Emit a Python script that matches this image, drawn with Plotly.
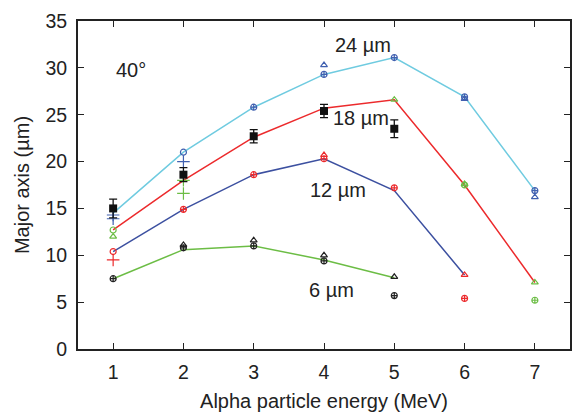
import plotly.graph_objects as go

energy = [1, 2, 3, 4, 5, 6, 7]

# Simulation lines (µm depth labels)
line24 = [14.5, 21.0, 25.8, 29.3, 31.1, 26.9, 16.9]
line18 = [12.7, 18.0, 22.6, 25.7, 26.6, 17.5, 7.1]
line12 = [10.4, 14.9, 18.6, 20.3, 16.9, 7.9]
line6 = [7.5, 10.6, 11.0, 9.5, 7.6]

# Experimental points (black squares with error bars)
exp_x = [1, 2, 3, 4, 5]
exp_y = [15.0, 18.6, 22.7, 25.4, 23.5]
exp_err = [1.0, 0.75, 0.7, 0.7, 0.95]

# Marker groups: (x list, y list)
blue_circ_x, blue_circ_y = [2], [21.0]
blue_plus_x, blue_plus_y = [1, 1, 2], [14.3, 13.9, 20.0]
blue_oplus_x, blue_oplus_y = [3, 4, 5, 6, 7], [25.8, 29.3, 31.1, 26.9, 16.9]
blue_tri_x, blue_tri_y = [4, 6, 7], [30.3, 26.7, 16.2]

red_circ_x, red_circ_y = [1], [10.4]
red_plus_x, red_plus_y = [1], [9.5]
red_oplus_x, red_oplus_y = [2, 3, 4, 5, 6], [14.9, 18.6, 20.3, 17.2, 5.4]
red_tri_x, red_tri_y = [4, 6], [20.7, 7.9]

green_circ_x, green_circ_y = [1], [12.7]
green_plus_x, green_plus_y = [2, 2], [16.6, 18.0]
green_oplus_x, green_oplus_y = [6, 7], [17.5, 5.2]
green_tri_x, green_tri_y = [1, 5, 6, 7], [12.0, 26.6, 17.6, 7.1]

black_oplus_x, black_oplus_y = [1, 2, 3, 4, 5], [7.5, 10.8, 11.0, 9.4, 5.7]
black_tri_x, black_tri_y = [2, 3, 4, 5], [11.1, 11.6, 10.0, 7.7]

labels = ["24 µm", "18 µm", "12 µm", "6 µm", "40°"]
label_x = [4.56, 4.52, 4.2, 4.1, 1.25]
label_y = [32.4, 24.7, 17.0, 6.3, 29.8]

CYAN = "#6fcbe0"
RED = "#ec2a2c"
BLUE = "#3c50a0"
GREEN = "#6cbd45"
MBLUE = "#4060b0"
BLACK = "#222222"
FONT = "Liberation Sans, Arial, sans-serif"

fig = go.Figure()

for xs, ys, c in [(energy, line24, CYAN), (energy, line18, RED),
                  (energy[:6], line12, BLUE), (energy[:5], line6, GREEN)]:
    fig.add_trace(go.Scatter(x=xs, y=ys, mode="lines",
                             line=dict(color=c, width=1.5)))

def mk(xs, ys, sym, color, size=6):
    fig.add_trace(go.Scatter(x=xs, y=ys, mode="markers",
                             marker=dict(symbol=sym, size=size, color=color,
                                         line=dict(color=color, width=1.2))))

for col, groups in [
    (MBLUE, [(blue_circ_x, blue_circ_y, "circle-open", 6),
             (blue_plus_x, blue_plus_y, "cross-thin-open", 9),
             (blue_oplus_x, blue_oplus_y, "circle-cross-open", 6),
             (blue_tri_x, blue_tri_y, "triangle-up-open", 6)]),
    (RED, [(red_circ_x, red_circ_y, "circle-open", 6),
           (red_plus_x, red_plus_y, "cross-thin-open", 9),
           (red_oplus_x, red_oplus_y, "circle-cross-open", 6),
           (red_tri_x, red_tri_y, "triangle-up-open", 6)]),
    (GREEN, [(green_circ_x, green_circ_y, "circle-open", 6),
             (green_plus_x, green_plus_y, "cross-thin-open", 9),
             (green_oplus_x, green_oplus_y, "circle-cross-open", 6),
             (green_tri_x, green_tri_y, "triangle-up-open", 6)]),
    (BLACK, [(black_oplus_x, black_oplus_y, "circle-cross-open", 6),
             (black_tri_x, black_tri_y, "triangle-up-open", 6)]),
]:
    for xs, ys, sym, sz in groups:
        mk(xs, ys, sym, col, sz)

fig.add_trace(go.Scatter(x=exp_x, y=exp_y, mode="markers",
                         marker=dict(symbol="square", size=8, color="#111111"),
                         error_y=dict(type="data", array=exp_err, visible=True,
                                      color="#111111", thickness=1.3, width=4)))

for t, xx, yy in zip(labels, label_x, label_y):
    fig.add_annotation(x=xx, y=yy, text=t, showarrow=False,
                       font=dict(size=20, color="#222222", family=FONT))

axis_common = dict(showgrid=False, zeroline=False, showline=True, linecolor="#222222",
                   linewidth=1.8, mirror="ticks", ticks="inside", ticklen=6,
                   tickwidth=1.3, tickcolor="#222222", ticklabelstandoff=5,
                   tickfont=dict(size=19.5, color="#222222", family=FONT))

fig.update_xaxes(range=[0.5, 7.5], tickvals=energy, **axis_common,
                 title=dict(text="Alpha particle energy (MeV)", standoff=12,
                            font=dict(size=20, color="#222222", family=FONT)))
fig.update_yaxes(range=[0, 35], dtick=5, **axis_common,
                 title=dict(text="Major axis (µm)", standoff=10,
                            font=dict(size=20, color="#222222", family=FONT)))

fig.update_layout(width=573, height=412, showlegend=False,
                  margin=dict(l=78, r=1, t=21, b=63),
                  plot_bgcolor="white", paper_bgcolor="white")

fig.write_html("out.html")
